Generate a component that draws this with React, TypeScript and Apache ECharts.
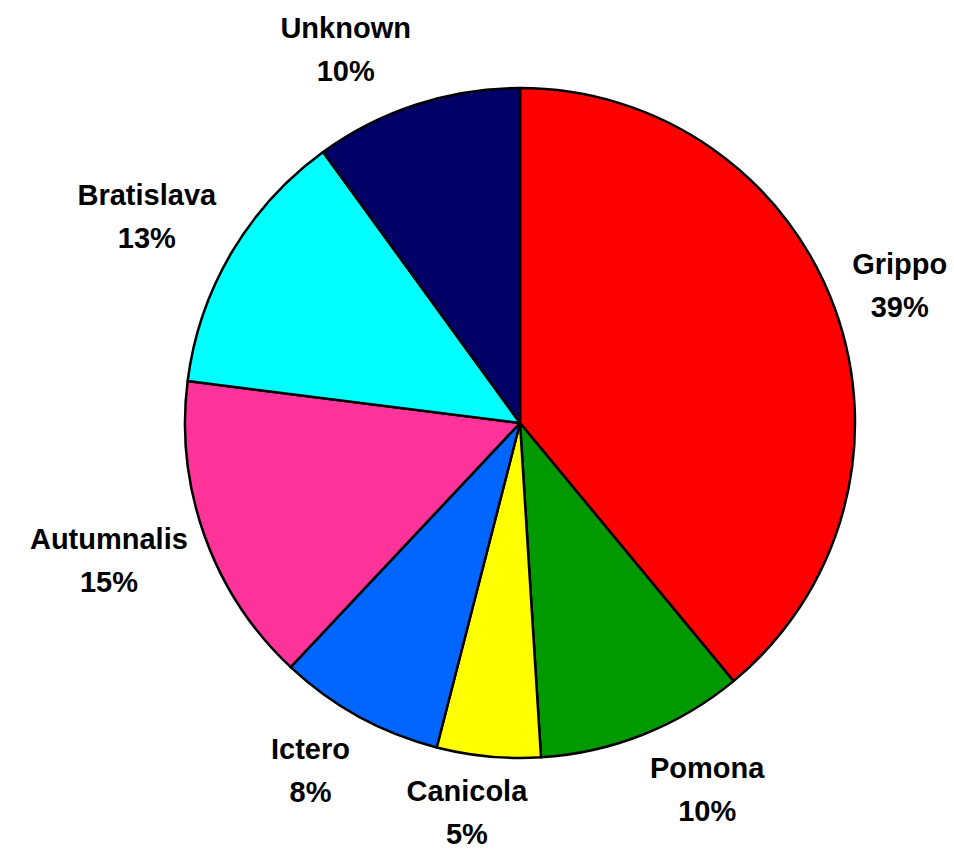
import React, { useEffect, useRef } from "react";
import * as echarts from "echarts";

const categories = ["Grippo", "Pomona", "Canicola", "Ictero", "Autumnalis", "Bratislava", "Unknown"];
const percents = [39, 10, 5, 8, 15, 13, 10];
const colors = ["#FF0000", "#009900", "#FFFF00", "#0066FF", "#FF3399", "#00FFFF", "#000066"];

const CX = 520;
const CY = 423;
const R = 335;
const GAP = 18;

export default function App() {
  const ref = useRef<HTMLDivElement>(null);
  useEffect(() => {
    if (!ref.current) return;
    const chart = echarts.init(ref.current, null, { renderer: "svg" });
    const total = percents.reduce((a, b) => a + b, 0);
    const mids: number[] = [];
    let acc = 0;
    percents.forEach((v) => {
      mids.push(((acc + v / 2) / total) * Math.PI * 2);
      acc += v;
    });
    const clamp = (v: number) => Math.max(-1, Math.min(1, v));
    chart.setOption({
      animation: false,
      backgroundColor: "#ffffff",
      series: [
        {
          type: "pie",
          center: [CX, CY],
          radius: [0, R],
          startAngle: 90,
          clockwise: true,
          avoidLabelOverlap: false,
          silent: true,
          itemStyle: { borderColor: "#000000", borderWidth: 2.5 },
          label: {
            show: true,
            position: "outside",
            formatter: "{b}\n{c}%",
            color: "#000000",
            fontFamily: "Arial, 'Liberation Sans', sans-serif",
            fontWeight: "bold",
            fontSize: 29,
            lineHeight: 43,
            align: "center",
          },
          labelLine: { show: false },
          labelLayout: (params: any) => {
            const a = mids[params.dataIndex];
            const dx = Math.sin(a);
            const dy = -Math.cos(a);
            const ax = CX + (R + GAP) * dx;
            const ay = CY + (R + GAP) * dy;
            const w = params.labelRect.width / 2;
            const h = 38;
            return {
              x: ax + w * clamp(dx * 3.5),
              y: ay + h * clamp(dy * 1.4),
              align: "center",
              verticalAlign: "middle",
            };
          },
          data: categories.map((name, i) => ({
            name,
            value: percents[i],
            itemStyle: { color: colors[i] },
          })),
        },
      ],
    });
    return () => chart.dispose();
  }, []);
  return (
    <div
      ref={ref}
      style={{ position: "fixed", left: 0, top: 0, width: 954, height: 851, background: "#fff" }}
    />
  );
}
